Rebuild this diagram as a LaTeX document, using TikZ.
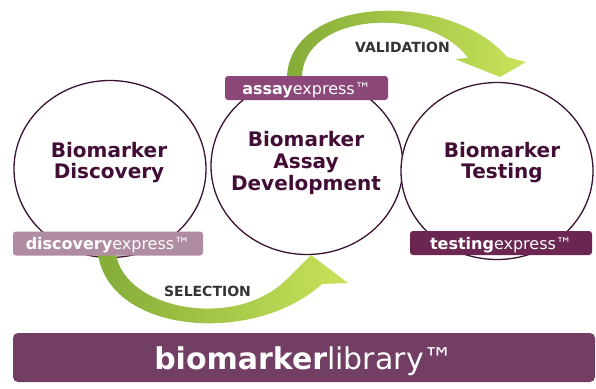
\documentclass[tikz,border=0pt]{standalone}
\usepackage{fontspec}
\setmainfont{DejaVu Sans}
\usetikzlibrary{shapes.geometric}

\definecolor{circline}{HTML}{3A1232}
\definecolor{circtext}{HTML}{420E36}
\definecolor{assaycol}{HTML}{8A4778}
\definecolor{disccol}{HTML}{B08CA2}
\definecolor{testcol}{HTML}{6B2752}
\definecolor{libcol}{HTML}{723E64}
\definecolor{arrowdark}{HTML}{84AC38}
\definecolor{arrowlight}{HTML}{C9E35A}
\definecolor{steptext}{HTML}{333333}

\begin{document}
\begin{tikzpicture}[x=1pt,y=-1pt,
  stage/.style={ellipse, draw=circline, line width=1.3pt, fill=white,
    minimum width=192pt, minimum height=177pt, inner sep=0pt},
  stagetext/.style={align=center, text=circtext, inner sep=0pt,
    font=\fontsize{20}{21}\selectfont\bfseries},
  tag/.style={fill=#1, rounded corners=3pt, text=white, inner sep=0pt,
    minimum height=24pt, text height=12pt, text depth=0pt,
    font=\fontsize{16}{18}\selectfont},
  steplabel/.style={text=steptext, inner sep=0pt, text height=10.2pt,
    text depth=0pt, font=\fontsize{14}{16}\selectfont\bfseries},
  flow/.style={left color=arrowdark, right color=arrowlight}
]
\useasboundingbox (0,0) rectangle (596,388);

% the three stages
\node[stage] (disc) at (110,169) {};
\node[stage] (assay) at (307,166) {};
\node[stage] (test) at (497,171) {};

\node[stagetext] (disctext) at (109,162.8) {Biomarker\\Discovery};
\node[stagetext, font=\fontsize{20}{21.7}\selectfont\bfseries]
  (assaytext) at (306,163) {Biomarker\\Assay\\Development};
\node[stagetext] (testtext) at (502,162.3) {Biomarker\\Testing};

% curved block arrows between the stages
\shade[flow] (287,77) -- (302,77)
  .. controls (303,12) and (430,5) .. (468,58)
  -- (455,59) -- (500,77) -- (526,62) -- (507,57)
  .. controls (450,-10) and (290,-5) .. (287,77) -- cycle;

\shade[flow] (98,254) -- (116,254)
  .. controls (125,310) and (235,330) .. (286,280)
  -- (311,255) -- (348,283) -- (322,284)
  .. controls (255,345) and (110,335) .. (98,254) -- cycle;

\node[steplabel] (valid) at (402.5,47.5) {VALIDATION};
\node[steplabel] (select) at (207.5,291.7) {SELECTION};

% product tags
\node[tag=disccol, minimum width=190pt] (disctag) at (108,243.5)
  {\textbf{discovery}express™};
\node[tag=assaycol, minimum width=163pt] (assaytag) at (306.5,88)
  {\textbf{assay}express™};
\node[tag=testcol, minimum width=182pt] (testtag) at (501,243)
  {\textbf{testing}express™};

% library bar
\node[fill=libcol, rounded corners=5pt, text=white, inner sep=0pt,
  minimum width=582pt, minimum height=49pt, text height=23.5pt, text depth=0pt,
  font=\fontsize{30}{33}\selectfont] (library) at (304,357.5)
  {\textbf{biomarker}library™};
\end{tikzpicture}
\end{document}
